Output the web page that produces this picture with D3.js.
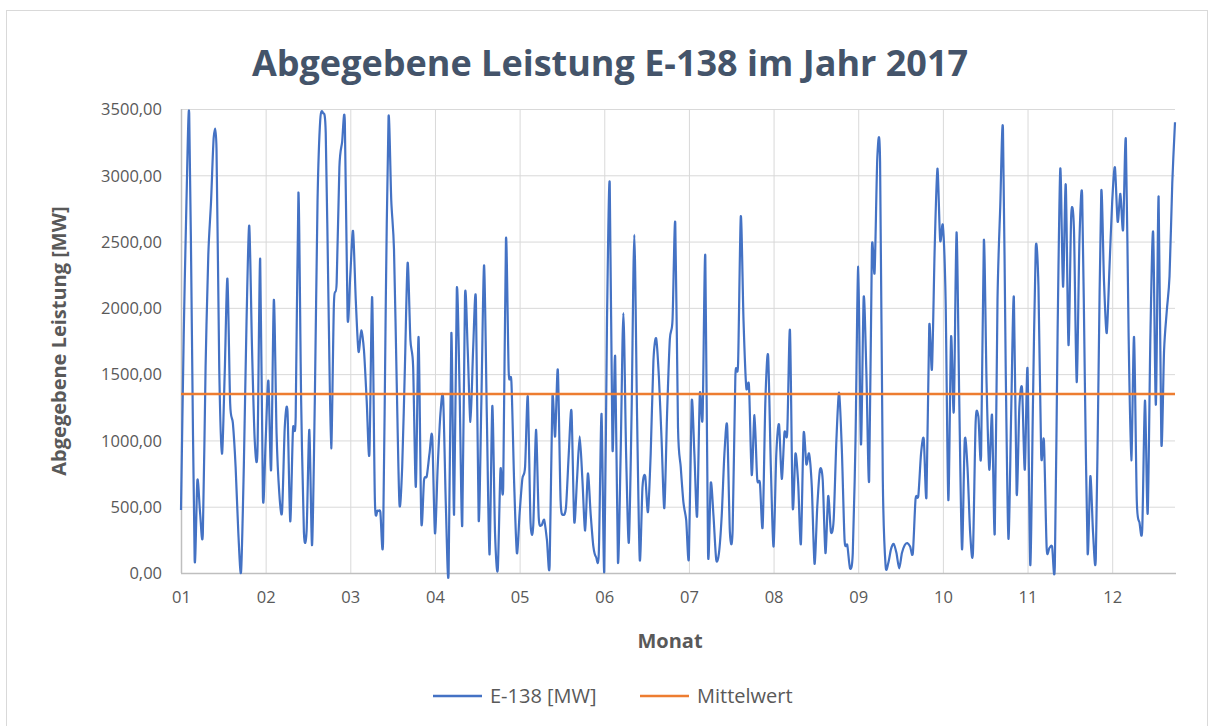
<!DOCTYPE html>
<meta charset="utf-8">
<style>
    body { margin: 0; background: #fff; }
    text { font-family: "Open Sans", "Liberation Sans", sans-serif; fill: #595959; }
    .title { font-size: 36px; font-weight: bold; fill: #44546a; }
    .axisTitle { font-size: 20px; font-weight: bold; fill: #595959; }
    .tick text { font-size: 16.5px; fill: #595959; }
    .grid line { stroke: #d9d9d9; stroke-width: 1px; }
    .grid path { stroke-width: 0; }
    .legend text { font-size: 20px; }
</style>
<body>
    <svg width="1214" height="726"></svg>
</body>

<script src="https://d3js.org/d3.v7.min.js"></script>
<script>

    // daily output E-138 [MW], one value per day (365 points)
    var jan = [475, 1800, 2800, 3470, 1800, 100, 700, 450, 300, 1550, 2400, 2800, 3290, 3200, 1550, 900,
               1500, 2220, 1280, 1130, 800, 300, 10, 800, 1900, 2620, 1700, 1000, 920, 2370, 570];
    var feb = [1000, 1450, 780, 2060, 1050, 600, 460, 1100, 1220, 390, 1080, 1180, 2870, 1300, 310, 320,
               1080, 210, 1300, 2810, 3420, 3470, 3320, 2060, 940, 2030, 2190, 3060, 3250, 3400, 1930];
    var mar = [2250, 2580, 2060, 1670, 1830, 1680, 1300, 900, 2080, 550, 470, 460, 240, 2060, 3440, 2810,
               2440, 1430, 520, 800, 1560, 2340, 1760, 1560, 650, 1780, 390, 700, 730, 900, 1030];
    var apr = [300, 800, 1200, 1320, 500, 0, 1810, 440, 2140, 1400, 360, 2090, 1680, 1140, 1700, 2060,
               400, 1300, 2320, 1180, 140, 1260, 300, 25, 780, 660, 2520, 1520, 1440, 680, 150];
    var may = [450, 710, 800, 1330, 380, 360, 1080, 420, 360, 400, 250, 60, 1320, 1030, 1530, 550,
               440, 500, 900, 1220, 390, 700, 1030, 700, 320, 750, 450, 200, 120, 150, 1200];
    var jun = [10, 1900, 2940, 940, 1630, 85, 900, 1960, 900, 230, 1200, 2550, 1200, 100, 650, 730,
               460, 900, 1600, 1770, 1480, 1000, 490, 1200, 1760, 1910, 2640, 1100, 800, 530, 400];
    var jul = [120, 1290, 900, 430, 1350, 1170, 2390, 150, 680, 430, 100, 150, 430, 900, 1110, 310,
               320, 1480, 1580, 2690, 1900, 1400, 1410, 740, 1190, 710, 680, 350, 1300, 1640, 800];
    var aug = [200, 900, 1120, 710, 1060, 1060, 1830, 500, 900, 680, 220, 1050, 820, 900, 650, 70,
               500, 780, 700, 150, 580, 310, 400, 1000, 1360, 930, 250, 210, 35, 150, 1000];
    var sep = [2310, 970, 2080, 1500, 700, 2440, 2270, 3140, 3100, 700, 60, 75, 180, 220, 150, 35,
               150, 210, 225, 200, 150, 560, 580, 900, 1010, 580, 1860, 1540, 2450, 3050];
    var oct = [2510, 2620, 2060, 550, 1780, 1220, 2570, 1300, 180, 1000, 800, 300, 150, 1140, 1180, 890,
               2510, 1430, 780, 1190, 300, 2060, 2760, 3350, 1560, 260, 1200, 2080, 600, 1250, 1390];
    var nov = [780, 1540, 60, 1300, 2450, 2160, 890, 1000, 190, 190, 200, 60, 1800, 3050, 2160, 2930,
               1720, 2700, 2590, 1440, 2500, 2850, 1430, 150, 730, 300, 110, 1500, 2880, 2200, 1810];
    var dec = [2300, 2800, 3060, 2650, 2860, 2590, 3270, 1810, 850, 1780, 550, 380, 330, 1300, 450, 1800,
               2570, 1270, 2840, 980, 1680, 1980, 2240, 2940, 3400];

    var leistung = [].concat(jan, feb, mar, apr, may, jun, jul, aug, sep, oct, nov, dec);
    var mittelwert = 1350;

    var monthLabels = ["01", "02", "03", "04", "05", "06", "07", "08", "09", "10", "11", "12"];
    var labelStep = 31;          // category axis: one label every 31 points
    var yTicks = [0, 500, 1000, 1500, 2000, 2500, 3000, 3500];

    var svg = d3.select("svg"),
        width = +svg.attr("width"),
        height = +svg.attr("height");

    var plot = { left: 181, right: 1175, top: 109, bottom: 573 };

    var x = d3.scaleLinear()
        .domain([0, leistung.length - 1])
        .range([plot.left, plot.right]);

    var y = d3.scaleLinear()
        .domain([0, 3500])
        .range([plot.bottom, plot.top]);

    var de = d3.formatLocale({ decimal: ",", thousands: "", grouping: [3], currency: ["", " €"] });
    var fmt = de.format(".2f");

    // outer chart border
    svg.append("rect")
        .attr("x", 6.5).attr("y", 10.5)
        .attr("width", 1201).attr("height", 720)
        .attr("fill", "#fff")
        .attr("stroke", "#d9d9d9");

    // horizontal grid
    svg.append("g")
        .attr("class", "grid")
        .attr("transform", "translate(" + plot.left + ",0)")
        .call(d3.axisLeft(y).tickValues(yTicks).tickSize(-(plot.right - plot.left)).tickFormat(""));

    // vertical grid at the label positions
    var xTickVals = monthLabels.map(function (d, i) { return i * labelStep; });
    svg.append("g")
        .attr("class", "grid")
        .attr("transform", "translate(0," + plot.bottom + ")")
        .call(d3.axisBottom(x).tickValues(xTickVals).tickSize(-(plot.bottom - plot.top)).tickFormat(""));

    // y axis labels
    var yAxis = svg.append("g")
        .attr("transform", "translate(" + (plot.left - 16) + ",0)")
        .call(d3.axisLeft(y).tickValues(yTicks).tickSize(0).tickFormat(fmt));
    yAxis.select(".domain").remove();
    yAxis.selectAll("text").attr("dy", "0.35em");

    // x axis labels + axis lines
    var xAxis = svg.append("g")
        .attr("transform", "translate(0," + plot.bottom + ")")
        .call(d3.axisBottom(x).tickValues(xTickVals).tickSize(0)
            .tickFormat(function (d) { return monthLabels[d / labelStep]; }));
    xAxis.select(".domain").remove();
    xAxis.selectAll("text").attr("y", 18).attr("dy", "0.71em");

    svg.append("line")
        .attr("x1", plot.left).attr("x2", plot.right + 1)
        .attr("y1", plot.bottom + 0.5).attr("y2", plot.bottom + 0.5)
        .attr("stroke", "#bfbfbf").attr("stroke-width", 1.5);
    svg.append("line")
        .attr("x1", plot.left + 0.5).attr("x2", plot.left + 0.5)
        .attr("y1", plot.top).attr("y2", plot.bottom)
        .attr("stroke", "#bfbfbf").attr("stroke-width", 1.5);

    // the series, smoothed like the Excel line
    var line = d3.line()
        .x(function (d, i) { return x(i); })
        .y(function (d) { return y(d); })
        .curve(d3.curveCardinal.tension(0.2));

    svg.append("path")
        .datum(leistung)
        .attr("fill", "none")
        .attr("stroke", "#4472c4")
        .attr("stroke-width", 2.2)
        .attr("stroke-linejoin", "round")
        .attr("d", line);

    // mean line
    svg.append("line")
        .attr("x1", x(0)).attr("x2", x(leistung.length - 1))
        .attr("y1", y(mittelwert)).attr("y2", y(mittelwert))
        .attr("stroke", "#ed7d31")
        .attr("stroke-width", 2.5);

    // titles
    svg.append("text")
        .attr("class", "title")
        .attr("x", 610).attr("y", 76)
        .attr("text-anchor", "middle")
        .text("Abgegebene Leistung E-138 im Jahr 2017");

    svg.append("text")
        .attr("class", "axisTitle")
        .attr("x", 670).attr("y", 648)
        .attr("text-anchor", "middle")
        .text("Monat");

    svg.append("text")
        .attr("class", "axisTitle")
        .attr("transform", "translate(66,341) rotate(-90)")
        .attr("text-anchor", "middle")
        .text("Abgegebene Leistung [MW]");

    // legend
    var legendItems = [
        { name: "E-138 [MW]", color: "#4472c4", x: 433 },
        { name: "Mittelwert", color: "#ed7d31", x: 640 }
    ];
    var legend = svg.append("g").attr("class", "legend");
    var li = legend.selectAll("g")
        .data(legendItems)
        .enter().append("g")
        .attr("transform", function (d) { return "translate(" + d.x + ",696)"; });
    li.append("line")
        .attr("x1", 0).attr("x2", 49)
        .attr("stroke", function (d) { return d.color; })
        .attr("stroke-width", 2.5);
    li.append("text")
        .attr("x", 57).attr("dy", "0.35em")
        .text(function (d) { return d.name; });

</script>
